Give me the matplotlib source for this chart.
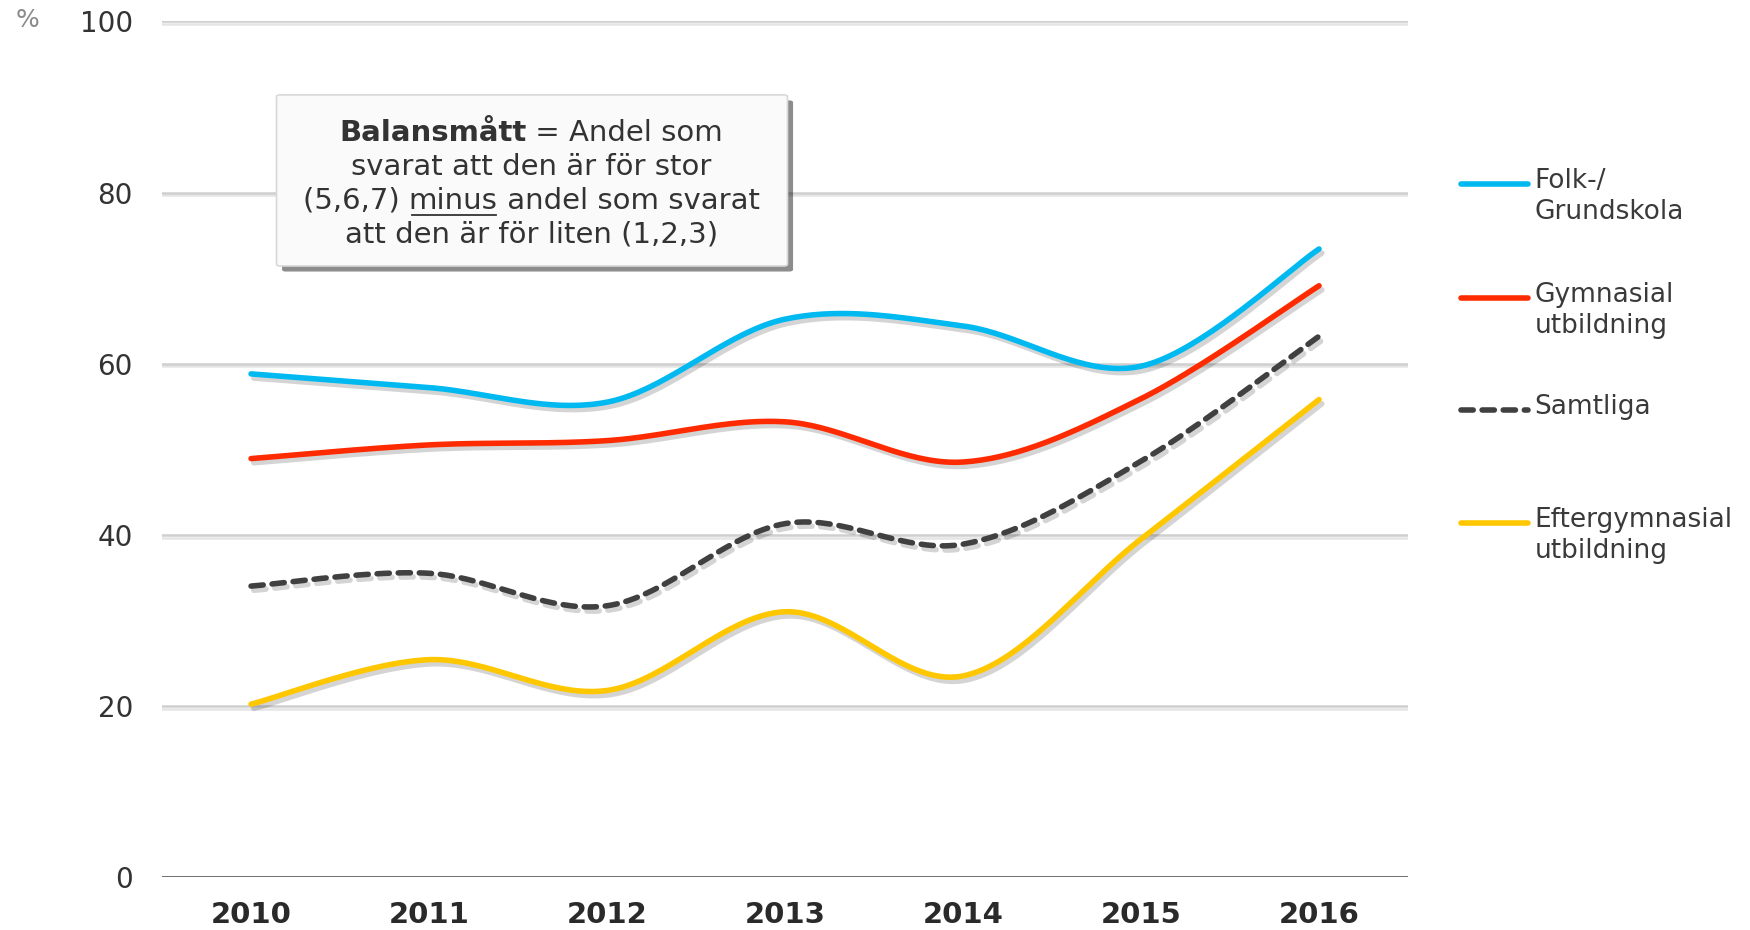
import numpy as np
import matplotlib
matplotlib.use("Agg")
import matplotlib.pyplot as plt
import matplotlib.patheffects as pe
from matplotlib.lines import Line2D
from matplotlib.patches import FancyBboxPatch

# data
years = ["2010", "2011", "2012", "2013", "2014", "2015", "2016"]
folk = [58.8, 57.2, 55.5, 65.2, 64.4, 59.7, 73.4]
gymnasial = [48.9, 50.5, 51.0, 53.2, 48.5, 55.9, 69.1]
samtliga = [34.0, 35.5, 31.7, 41.3, 38.9, 48.6, 63.2]
efter = [20.2, 25.4, 21.8, 31.0, 23.5, 39.5, 55.8]

labels = ["Folk-/\nGrundskola", "Gymnasial\nutbildning", "Samtliga", "Eftergymnasial\nutbildning"]
colors = ["#00B9F1", "#FF2B00", "#404040", "#FFC700"]
styles = ["-", "-", (0, (2.2, 1.6)), "-"]
series = [folk, gymnasial, samtliga, efter]


def smooth(y, n=40):
    # excel-style smoothed line (bezier through the points)
    x = np.arange(len(y), dtype=float)
    y = np.asarray(y, dtype=float)
    px = np.concatenate([[x[0]], x, [x[-1]]])
    py = np.concatenate([[y[0]], y, [y[-1]]])
    xs, ys = [], []
    t = np.linspace(0, 1, n)
    for i in range(1, len(px) - 2):
        p0 = np.array([px[i], py[i]])
        p3 = np.array([px[i + 1], py[i + 1]])
        p1 = p0 + (np.array([px[i + 1], py[i + 1]]) - np.array([px[i - 1], py[i - 1]])) / 6
        p2 = p3 - (np.array([px[i + 2], py[i + 2]]) - np.array([px[i], py[i]])) / 6
        b = ((1 - t) ** 3)[:, None] * p0 + (3 * (1 - t) ** 2 * t)[:, None] * p1 \
            + (3 * (1 - t) * t ** 2)[:, None] * p2 + (t ** 3)[:, None] * p3
        xs.append(b[:, 0])
        ys.append(b[:, 1])
    return np.concatenate(xs), np.concatenate(ys)


plt.rcParams['font.family'] = ['DejaVu Sans']
fig = plt.figure(figsize=(17.5, 9.3), dpi=100)
ax = fig.add_axes([0.0926, 0.057, 0.712, 0.920])

shadow = [pe.SimpleLineShadow(offset=(2, -3), shadow_color="black", alpha=0.17), pe.Normal()]

# gridlines
for v in [20, 40, 60, 80, 100]:
    ax.axhline(v, color="#CFCFCF", lw=1.8, zorder=1,
               path_effects=[pe.SimpleLineShadow(offset=(0, -2), shadow_color="black", alpha=0.10), pe.Normal()])
ax.axhline(0, color="#444444", lw=1.8, zorder=2)

for y, c, ls in zip(series, colors, styles):
    sx, sy = smooth(y)
    ax.plot(sx, sy, color=c, lw=4, ls=ls, solid_capstyle="round", dash_capstyle="round",
            zorder=3, path_effects=shadow)

ax.set_xlim(-0.5, 6.5)
ax.set_ylim(0, 100)
ax.set_yticks([0, 20, 40, 60, 80, 100])
ax.set_xticks(range(len(years)))
ax.set_xticklabels(years, fontsize=21, fontweight="bold", color="#2a2a2a",
                   family=["Liberation Sans Narrow", "DejaVu Sans"])
ax.tick_params(axis="x", length=0, pad=17)
ax.tick_params(axis="y", length=0, pad=21, labelsize=20, labelcolor="#333333")
for s in ax.spines.values():
    s.set_visible(False)

fig.text(0.0155, 0.979, "%", fontsize=18, color="#8a8a8a", ha="center", va="center")

# legend drawn by hand
leg_y = [0.802, 0.680, 0.559, 0.438]
for lab, c, ls, yy in zip(labels, colors, styles, leg_y):
    fig.add_artist(Line2D([0.835, 0.873], [yy, yy], color=c, lw=4, ls=ls,
                          solid_capstyle="round", dash_capstyle="round"))
    fig.text(0.877, yy + 0.017, lab, fontsize=19, color="#3a3a3a", ha="left", va="top",
             linespacing=1.25)

# text box
box = FancyBboxPatch((0.158, 0.714), 0.292, 0.184, boxstyle="round,pad=0,rounding_size=0.002",
                     transform=fig.transFigure, facecolor="#FAFAFA", edgecolor="#D8D8D8", lw=1.2,
                     path_effects=[pe.SimplePatchShadow(offset=(4, -4), shadow_rgbFace="black", alpha=0.45),
                                   pe.Normal()], zorder=5)
fig.add_artist(box)

cx = 0.3035
fs = 21
r = fig.canvas.get_renderer()
t1a = fig.text(0, 0, "Balansmått", fontsize=fs, fontweight="bold", color="#333333")
t1b = fig.text(0, 0, " = Andel som", fontsize=fs, color="#333333")
wa = t1a.get_window_extent(r).width / fig.bbox.width
wb = t1b.get_window_extent(r).width / fig.bbox.width
y1 = 1 - 133 / 930
x0 = cx - (wa + wb) / 2
t1a.set_position((x0, y1)); t1a.set_va("center"); t1a.set_zorder(6)
t1b.set_position((x0 + wa, y1)); t1b.set_va("center"); t1b.set_zorder(6)

fig.text(cx, 1 - 167 / 930, "svarat att den är för stor", fontsize=fs, color="#333333",
         ha="center", va="center", zorder=6)

t3a = fig.text(0, 0, "(5,6,7) ", fontsize=fs, color="#333333")
t3b = fig.text(0, 0, "minus", fontsize=fs, color="#333333")
t3c = fig.text(0, 0, " andel som svarat", fontsize=fs, color="#333333")
w3 = [t.get_window_extent(r).width / fig.bbox.width for t in (t3a, t3b, t3c)]
y3 = 1 - 201 / 930
x = cx - sum(w3) / 2
for t, w in zip((t3a, t3b, t3c), w3):
    t.set_position((x, y3)); t.set_va("center"); t.set_zorder(6)
    x += w
ux = cx - sum(w3) / 2 + w3[0]
fig.add_artist(Line2D([ux + 0.002, ux + w3[1] - 0.001], [y3 - 0.0155, y3 - 0.0155],
                      color="#333333", lw=1.3, zorder=6))

fig.text(cx, 1 - 235 / 930, "att den är för liten (1,2,3)", fontsize=fs, color="#333333",
         ha="center", va="center", zorder=6)

fig.savefig("out.png", dpi=100, facecolor="white")
